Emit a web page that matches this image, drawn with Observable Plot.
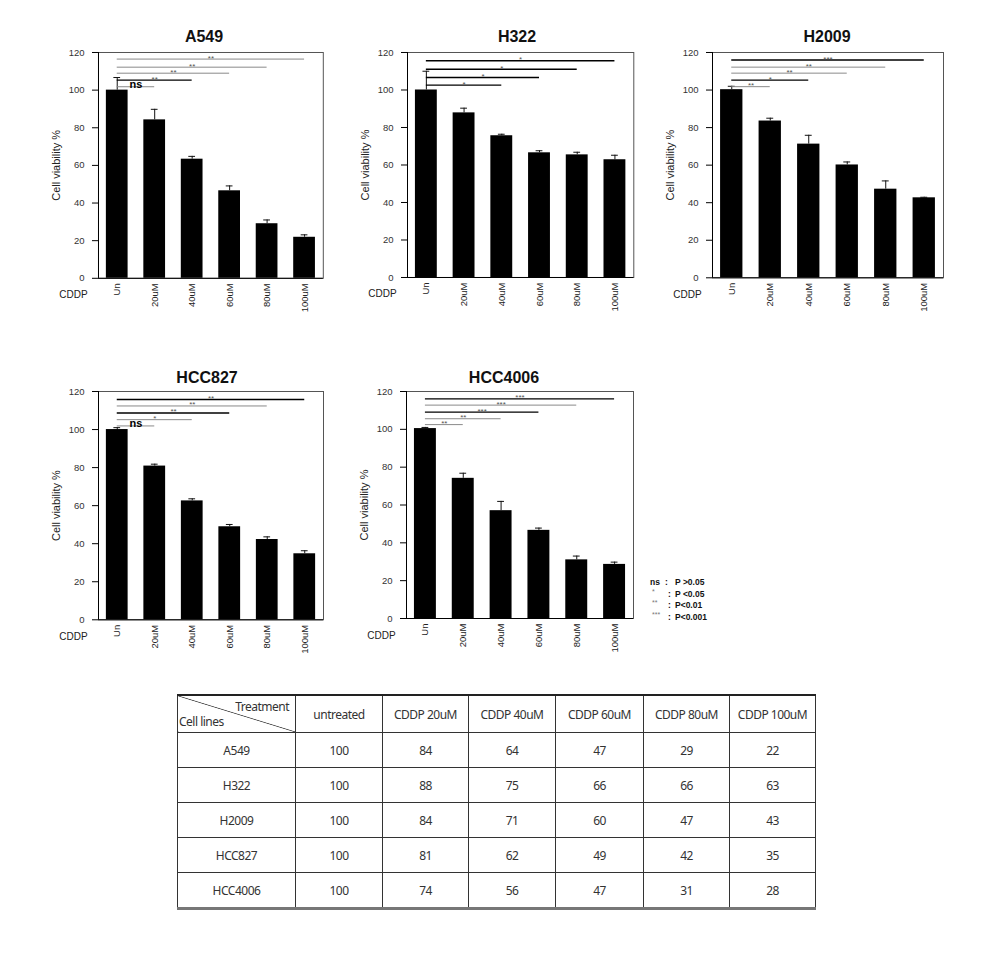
<!DOCTYPE html>
<html><head><meta charset="utf-8">
<script src="https://cdn.jsdelivr.net/npm/d3@7"></script>
<script src="https://cdn.jsdelivr.net/npm/@observablehq/plot@0.6"></script>
<style>
body{margin:0;background:#fff;font-family:"Liberation Sans",Arial,sans-serif;}
#root{position:relative;width:984px;height:956px;overflow:hidden;}
.panel{position:absolute;}
.title{position:absolute;transform:translate(-50%,-50%);font-weight:bold;font-size:16px;color:#111;white-space:nowrap;}
.legend{position:absolute;font-weight:bold;font-size:8.5px;color:#111;white-space:nowrap;}
.legend span{position:absolute;top:0;}
.legend .st{color:#777;font-size:7px;font-weight:normal;top:-1px;}
table{position:absolute;left:177px;top:694px;border-collapse:collapse;font-family:"Noto Sans",sans-serif;font-size:12px;color:#333;letter-spacing:-0.5px;}
td{border:1px solid #333;text-align:center;padding:0;}
tr.head td{height:36px;}
tr.row td{height:34px;}
table{border-top:2px solid #222;border-bottom:3px solid #777;}
td.diag{position:relative;background:linear-gradient(to top right, transparent calc(50% - 0.7px), #333 50%, transparent calc(50% + 0.7px));}
td.diag .t{position:absolute;right:6px;top:2px;}
td.diag .c{position:absolute;left:1px;bottom:2px;}
</style></head><body><div id="root"></div>
<script>
// ---------- data ----------
const cellLines = ["A549", "H322", "H2009", "HCC827", "HCC4006"];
const xLabels = ["Un", "20uM", "40uM", "60uM", "80uM", "100uM"];
const yTicks = [0, 20, 40, 60, 80, 100, 120];
const treatments = ["untreated", "CDDP 20uM", "CDDP 40uM", "CDDP 60uM", "CDDP 80uM", "CDDP 100uM"];

const meanA549 = [100, 84.2, 63.3, 46.5, 29, 21.8];
const errA549 = [6.7, 5.6, 1.5, 2.6, 2, 1.3];
const meanH322 = [100, 87.8, 75.6, 66.5, 65.4, 62.8];
const errH322 = [10, 2.5, 0.8, 1.1, 1.4, 2.4];
const meanH2009 = [100.2, 83.5, 71.2, 60.1, 47.2, 42.6];
const errH2009 = [1.8, 1.5, 4.7, 1.6, 4.4, 0.3];
const meanHCC827 = [100, 80.8, 62.5, 48.9, 42.2, 34.7];
const errHCC827 = [1, 1, 1.1, 1.2, 1.4, 1.6];
const meanHCC4006 = [100.4, 74.1, 57, 46.6, 31, 28.6];
const errHCC4006 = [0.6, 2.7, 4.9, 1.2, 2, 1.2];

// significance comparisons: untreated vs target index
const sigTargetsA549 = [1, 2, 3, 4, 5];
const sigLevelsA549 = [101.8, 105.3, 109, 112.2, 116.5];
const sigLabelsA549 = ["ns", "**", "**", "**", "**"];
const sigDarkA549 = [false, true, false, false, false];

const sigTargetsH322 = [2, 3, 4, 5];
const sigLevelsH322 = [102.6, 106.7, 111.1, 115.6];
const sigLabelsH322 = ["*", "*", "*", "*"];
const sigDarkH322 = [true, true, true, true];

const sigTargetsH2009 = [1, 2, 3, 4, 5];
const sigLevelsH2009 = [101.8, 105.3, 109, 112.2, 116];
const sigLabelsH2009 = ["**", "*", "**", "**", "***"];
const sigDarkH2009 = [false, true, false, false, true];

const sigTargetsHCC827 = [1, 2, 3, 4, 5];
const sigLevelsHCC827 = [101.9, 105.2, 108.7, 112.4, 115.8];
const sigLabelsHCC827 = ["ns", "*", "**", "**", "**"];
const sigDarkHCC827 = [false, false, true, false, true];

const sigTargetsHCC4006 = [1, 2, 3, 4, 5];
const sigLevelsHCC4006 = [102.5, 105.6, 109.1, 112.8, 116.1];
const sigLabelsHCC4006 = ["**", "**", "***", "***", "***"];
const sigDarkHCC4006 = [false, false, true, false, true];

const tableA549 = [100, 84, 64, 47, 29, 22];
const tableH322 = [100, 88, 75, 66, 66, 63];
const tableH2009 = [100, 84, 71, 60, 47, 43];
const tableHCC827 = [100, 81, 62, 49, 42, 35];
const tableHCC4006 = [100, 74, 56, 47, 31, 28];

const legendKeys = ["ns", "*", "**", "***"];
const legendTexts = ["P >0.05", "P <0.05", "P<0.01", "P<0.001"];

// ---------- assemble ----------
const means = [meanA549, meanH322, meanH2009, meanHCC827, meanHCC4006];
const errs = [errA549, errH322, errH2009, errHCC827, errHCC4006];
const sigT = [sigTargetsA549, sigTargetsH322, sigTargetsH2009, sigTargetsHCC827, sigTargetsHCC4006];
const sigL = [sigLevelsA549, sigLevelsH322, sigLevelsH2009, sigLevelsHCC827, sigLevelsHCC4006];
const sigS = [sigLabelsA549, sigLabelsH322, sigLabelsH2009, sigLabelsHCC827, sigLabelsHCC4006];
const sigD = [sigDarkA549, sigDarkH322, sigDarkH2009, sigDarkHCC827, sigDarkHCC4006];
const tables = [tableA549, tableH322, tableH2009, tableHCC827, tableHCC4006];

// layout (frame edges in page pixels)
const frames = [
  {L: 97.7, T: 51.7, R: 322.5, B: 277.5, tx: 204, ty: 37},
  {L: 406.7, T: 51.7, R: 633, B: 276.7, tx: 517, ty: 37},
  {L: 712.3, T: 51.7, R: 943.3, B: 277, tx: 827, ty: 37},
  {L: 97.7, T: 391, R: 322.7, B: 619.3, tx: 207, ty: 378},
  {L: 406, T: 391, R: 633, B: 618, tx: 504, ty: 378}
];

const root = document.getElementById("root");
const FONT = '"Liberation Sans", Arial, sans-serif';

cellLines.forEach((name, k) => {
  const f = frames[k];
  const mL = 60, mR = 10, mT = 12, mB = 50;
  const fw = f.R - f.L, fh = f.B - f.T;
  const bars = xLabels.map((lab, i) => ({i, lab, mean: means[k][i], top: means[k][i] + errs[k][i]}));
  const sig = sigT[k].map((t, j) => ({t, level: sigL[k][j], label: sigS[k][j], dark: sigD[k][j]}));
  const plot = Plot.plot({
    width: mL + fw + mR, height: mT + fh + mB,
    marginLeft: mL, marginRight: mR, marginTop: mT, marginBottom: mB,
    x: {domain: [-0.5, 5.5]},
    y: {domain: [0, 120]},
    style: {fontFamily: FONT, background: "transparent", overflow: "visible"},
    marks: [
      Plot.frame({stroke: "#555", strokeWidth: 1}),
      Plot.rectY(bars, {x1: d => d.i - 0.29, x2: d => d.i + 0.29, y1: 0, y2: "mean", fill: "#000"}),
      Plot.ruleX(bars, {x: "i", y1: "mean", y2: "top", stroke: "#111", strokeWidth: 1}),
      Plot.ruleY(bars, {x1: d => d.i - 0.09, x2: d => d.i + 0.09, y: "top", stroke: "#111", strokeWidth: 1}),
      Plot.ruleY(sig.filter(d => !d.dark), {x1: 0, x2: "t", y: "level", stroke: "#8a8a8a", strokeWidth: 1}),
      Plot.ruleY(sig.filter(d => d.dark), {x1: 0, x2: "t", y: "level", stroke: "#000", strokeWidth: 1.4}),
      Plot.text(sig.filter(d => d.label !== "ns"), {x: d => d.t / 2, y: "level", text: "label", fontSize: 8, fill: "#555", lineAnchor: "bottom", dy: 1.5}),
      Plot.text(sig.filter(d => d.label === "ns"), {x: d => d.t / 2, y: "level", text: "label", fontSize: 11, fontWeight: "bold", fill: "#000", lineAnchor: "bottom", dy: 1.5}),
      Plot.ruleX([-0.5], {stroke: "#000", strokeWidth: 1}),
      Plot.ruleY([0], {stroke: "#000", strokeWidth: 1}),
      Plot.axisY({ticks: yTicks, tickSize: 6, tickPadding: 8, fontSize: 9.5, fill: "#333", stroke: "#000", label: null}),
      Plot.axisX({ticks: [0, 1, 2, 3, 4, 5], tickFormat: i => xLabels[i], tickRotate: -90, tickSize: 0, tickPadding: 5, fontSize: 9.5, fill: "#222", label: null}),
      Plot.text(["Cell viability %"], {frameAnchor: "left", rotate: -90, dx: -42, fontSize: 11, fill: "#222", textAnchor: "middle"}),
      Plot.text(["CDDP"], {frameAnchor: "bottom-left", dx: -25, dy: 20, fontSize: 10, fill: "#222", textAnchor: "middle"})
    ]
  });
  const wrap = document.createElement("div");
  wrap.className = "panel";
  wrap.style.left = (f.L - mL) + "px";
  wrap.style.top = (f.T - mT) + "px";
  wrap.appendChild(plot);
  root.appendChild(wrap);
  const t = document.createElement("div");
  t.className = "title";
  t.style.left = f.tx + "px";
  t.style.top = f.ty + "px";
  t.textContent = name;
  root.appendChild(t);
});

// legend
const legendY = [577, 588.5, 600, 611.5];
legendKeys.forEach((key, j) => {
  const d = document.createElement("div");
  d.className = "legend";
  d.style.left = "650px";
  d.style.top = legendY[j] + "px";
  const isNs = key === "ns";
  d.innerHTML = `<span class="${isNs ? "" : "st"}" style="left:${isNs ? 0 : 2}px">${key}</span>` +
    `<span style="left:${isNs ? 15 : 18}px">:</span>` +
    `<span style="left:25px">${legendTexts[j]}</span>`;
  root.appendChild(d);
});

// table
const table = document.createElement("table");
const colW = [118, 87, 86, 87, 88, 86, 86];
let html = "<colgroup>" + colW.map(w => `<col style="width:${w}px">`).join("") + "</colgroup>";
html += `<tr class="head"><td class="diag"><span class="t">Treatment</span><span class="c">Cell lines</span></td>` +
  treatments.map(t => `<td>${t}</td>`).join("") + "</tr>";
cellLines.forEach((name, k) => {
  html += `<tr class="row"><td>${name}</td>` + tables[k].map(v => `<td>${v}</td>`).join("") + "</tr>";
});
table.innerHTML = html;
table.style.width = colW.reduce((a, b) => a + b, 0) + "px";
table.style.tableLayout = "fixed";
root.appendChild(table);
</script></body></html>
